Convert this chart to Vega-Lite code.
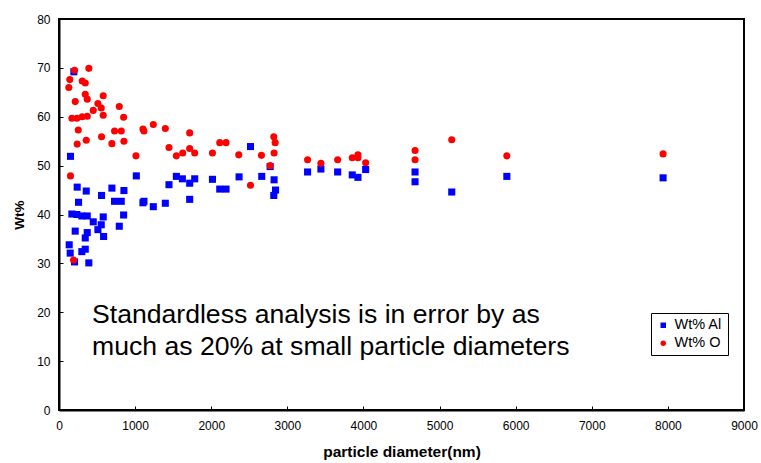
{
  "$schema": "https://vega.github.io/schema/vega-lite/v6.json",
  "autosize": "none",
  "width": 685,
  "height": 391,
  "padding": {"left": 59, "top": 19, "right": 17, "bottom": 53},
  "background": "white",
  "config": {
    "font": "Liberation Sans",
    "view": {"stroke": "black", "strokeWidth": 2},
    "axis": {"grid": false, "domainColor": "black", "domainWidth": 2, "tickColor": "black", "labelColor": "black", "titleColor": "black", "labelFont": "Liberation Sans", "titleFont": "Liberation Sans"}
  },
  "data": {"values": [
    {"d":195,"wt":69.2,"s":"Wt% Al"},{"d":151,"wt":51.9,"s":"Wt% Al"},{"d":2516,"wt":53.9,"s":"Wt% Al"},{"d":1016,"wt":47.9,"s":"Wt% Al"},{"d":1542,"wt":47.8,"s":"Wt% Al"},{"d":1621,"wt":47.3,"s":"Wt% Al"},{"d":1717,"wt":46.4,"s":"Wt% Al"},{"d":1783,"wt":47.3,"s":"Wt% Al"},{"d":2016,"wt":47.2,"s":"Wt% Al"},{"d":2366,"wt":47.7,"s":"Wt% Al"},
    {"d":239,"wt":45.6,"s":"Wt% Al"},{"d":358,"wt":44.8,"s":"Wt% Al"},{"d":695,"wt":45.4,"s":"Wt% Al"},{"d":853,"wt":44.9,"s":"Wt% Al"},{"d":1445,"wt":46.1,"s":"Wt% Al"},{"d":2112,"wt":45.2,"s":"Wt% Al"},{"d":2195,"wt":45.2,"s":"Wt% Al"},{"d":2664,"wt":47.8,"s":"Wt% Al"},{"d":2774,"wt":49.8,"s":"Wt% Al"},{"d":2826,"wt":47.1,"s":"Wt% Al"},
    {"d":2845,"wt":45.0,"s":"Wt% Al"},{"d":2822,"wt":43.9,"s":"Wt% Al"},{"d":3266,"wt":48.7,"s":"Wt% Al"},{"d":3441,"wt":49.3,"s":"Wt% Al"},{"d":3661,"wt":48.7,"s":"Wt% Al"},{"d":3853,"wt":48.1,"s":"Wt% Al"},{"d":3928,"wt":47.6,"s":"Wt% Al"},{"d":4029,"wt":49.2,"s":"Wt% Al"},{"d":4678,"wt":48.7,"s":"Wt% Al"},{"d":4678,"wt":46.7,"s":"Wt% Al"},
    {"d":5160,"wt":44.6,"s":"Wt% Al"},{"d":5884,"wt":47.8,"s":"Wt% Al"},{"d":7937,"wt":47.5,"s":"Wt% Al"},{"d":559,"wt":43.9,"s":"Wt% Al"},{"d":257,"wt":42.5,"s":"Wt% Al"},{"d":730,"wt":42.7,"s":"Wt% Al"},{"d":818,"wt":42.7,"s":"Wt% Al"},{"d":1103,"wt":42.4,"s":"Wt% Al"},{"d":1116,"wt":42.7,"s":"Wt% Al"},{"d":1239,"wt":41.6,"s":"Wt% Al"},
    {"d":1397,"wt":42.3,"s":"Wt% Al"},{"d":1717,"wt":43.1,"s":"Wt% Al"},{"d":169,"wt":40.1,"s":"Wt% Al"},{"d":235,"wt":40.0,"s":"Wt% Al"},{"d":300,"wt":39.7,"s":"Wt% Al"},{"d":371,"wt":39.7,"s":"Wt% Al"},{"d":581,"wt":39.5,"s":"Wt% Al"},{"d":849,"wt":39.9,"s":"Wt% Al"},{"d":450,"wt":38.5,"s":"Wt% Al"},{"d":555,"wt":37.9,"s":"Wt% Al"},
    {"d":792,"wt":37.6,"s":"Wt% Al"},{"d":511,"wt":36.9,"s":"Wt% Al"},{"d":213,"wt":36.6,"s":"Wt% Al"},{"d":371,"wt":36.3,"s":"Wt% Al"},{"d":345,"wt":35.2,"s":"Wt% Al"},{"d":586,"wt":35.5,"s":"Wt% Al"},{"d":134,"wt":33.8,"s":"Wt% Al"},{"d":147,"wt":32.1,"s":"Wt% Al"},{"d":345,"wt":32.9,"s":"Wt% Al"},{"d":300,"wt":32.4,"s":"Wt% Al"},
    {"d":204,"wt":30.3,"s":"Wt% Al"},{"d":392,"wt":30.1,"s":"Wt% Al"},
    {"d":204,"wt":69.5,"s":"Wt% O"},{"d":392,"wt":69.9,"s":"Wt% O"},{"d":142,"wt":67.6,"s":"Wt% O"},{"d":305,"wt":67.3,"s":"Wt% O"},{"d":345,"wt":66.9,"s":"Wt% O"},{"d":129,"wt":66.0,"s":"Wt% O"},{"d":345,"wt":64.6,"s":"Wt% O"},{"d":371,"wt":63.6,"s":"Wt% O"},{"d":581,"wt":64.3,"s":"Wt% O"},{"d":213,"wt":63.1,"s":"Wt% O"},
    {"d":511,"wt":62.7,"s":"Wt% O"},{"d":555,"wt":61.8,"s":"Wt% O"},{"d":792,"wt":62.1,"s":"Wt% O"},{"d":450,"wt":61.3,"s":"Wt% O"},{"d":581,"wt":60.3,"s":"Wt% O"},{"d":849,"wt":59.9,"s":"Wt% O"},{"d":169,"wt":59.7,"s":"Wt% O"},{"d":235,"wt":59.7,"s":"Wt% O"},{"d":305,"wt":60.0,"s":"Wt% O"},{"d":371,"wt":60.1,"s":"Wt% O"},
    {"d":253,"wt":57.3,"s":"Wt% O"},{"d":730,"wt":57.1,"s":"Wt% O"},{"d":818,"wt":57.1,"s":"Wt% O"},{"d":1103,"wt":57.5,"s":"Wt% O"},{"d":1116,"wt":57.1,"s":"Wt% O"},{"d":1239,"wt":58.4,"s":"Wt% O"},{"d":1397,"wt":57.6,"s":"Wt% O"},{"d":1717,"wt":56.7,"s":"Wt% O"},{"d":239,"wt":54.4,"s":"Wt% O"},{"d":358,"wt":55.2,"s":"Wt% O"},
    {"d":559,"wt":55.9,"s":"Wt% O"},{"d":695,"wt":54.5,"s":"Wt% O"},{"d":853,"wt":55.0,"s":"Wt% O"},{"d":1011,"wt":52.0,"s":"Wt% O"},{"d":1445,"wt":53.7,"s":"Wt% O"},{"d":1542,"wt":52.0,"s":"Wt% O"},{"d":1625,"wt":52.6,"s":"Wt% O"},{"d":1717,"wt":53.5,"s":"Wt% O"},{"d":1783,"wt":52.6,"s":"Wt% O"},{"d":2016,"wt":52.6,"s":"Wt% O"},
    {"d":2112,"wt":54.7,"s":"Wt% O"},{"d":2195,"wt":54.7,"s":"Wt% O"},{"d":2362,"wt":52.2,"s":"Wt% O"},{"d":2516,"wt":46.0,"s":"Wt% O"},{"d":151,"wt":47.9,"s":"Wt% O"},{"d":191,"wt":30.7,"s":"Wt% O"},{"d":2660,"wt":52.1,"s":"Wt% O"},{"d":2822,"wt":55.9,"s":"Wt% O"},{"d":2840,"wt":54.7,"s":"Wt% O"},{"d":2826,"wt":52.6,"s":"Wt% O"},
    {"d":2774,"wt":50.0,"s":"Wt% O"},{"d":3266,"wt":51.2,"s":"Wt% O"},{"d":3441,"wt":50.5,"s":"Wt% O"},{"d":3661,"wt":51.2,"s":"Wt% O"},{"d":3853,"wt":51.6,"s":"Wt% O"},{"d":3928,"wt":52.2,"s":"Wt% O"},{"d":3928,"wt":51.6,"s":"Wt% O"},{"d":4029,"wt":50.6,"s":"Wt% O"},{"d":4678,"wt":53.1,"s":"Wt% O"},{"d":4678,"wt":51.2,"s":"Wt% O"},
    {"d":5160,"wt":55.3,"s":"Wt% O"},{"d":5884,"wt":52.0,"s":"Wt% O"},{"d":7937,"wt":52.4,"s":"Wt% O"}
  ]},
  "layer": [
    {
      "mark": {"type": "point", "filled": true, "opacity": 1, "size": 50},
      "encoding": {
        "x": {"field": "d", "type": "quantitative", "scale": {"domain": [0, 9000], "nice": false},
              "axis": {"title": "particle diameter(nm)", "values": [0,1000,2000,3000,4000,5000,6000,7000,8000,9000], "format": "d", "tickSize": -4, "labelPadding": 14, "labelFontSize": 12, "titleFontSize": 15.5, "titleFontWeight": "bold", "titlePadding": 13, "labelFlush": false}},
        "y": {"field": "wt", "type": "quantitative", "scale": {"domain": [0, 80], "nice": false},
              "axis": {"title": "Wt%", "values": [0,10,20,30,40,50,60,70,80], "format": "d", "tickSize": -4, "labelPadding": 13, "labelFontSize": 12, "titleFontSize": 13.5, "titleFontWeight": "bold", "titlePadding": 10}},
        "color": {"field": "s", "type": "nominal", "scale": {"domain": ["Wt% Al", "Wt% O"], "range": ["#0000FF", "#FF0000"]},
                  "legend": {"title": null, "orient": "none", "legendX": 592, "legendY": 294, "strokeColor": "black", "fillColor": "white", "padding": 5, "labelFontSize": 14.5, "labelColor": "black", "labelFont": "Liberation Sans", "symbolSize": 30, "rowPadding": 3, "labelOffset": 4}},
        "shape": {"field": "s", "type": "nominal", "scale": {"domain": ["Wt% Al", "Wt% O"], "range": ["square", "circle"]}}
      }
    },
    {
      "data": {"values": [{"note": ["Standardless analysis is in error by as", "much as 20% at small particle diameters"]}]},
      "mark": {"type": "text", "align": "left", "baseline": "alphabetic", "fontSize": 26.6, "color": "black", "lineHeight": 31.5, "font": "Liberation Sans"},
      "encoding": {
        "x": {"datum": 434},
        "y": {"datum": 17.8},
        "text": {"field": "note"}
      }
    }
  ]
}
